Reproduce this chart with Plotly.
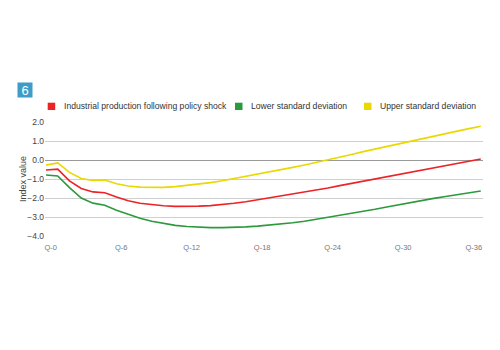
import plotly.graph_objects as go

quarters = list(range(38))
tick_labels = ["Q-0", "Q-6", "Q-12", "Q-18", "Q-24", "Q-30", "Q-36"]
tick_quarters = [0, 6, 12, 18, 24, 30, 36]

industrial = [-0.53, -0.48, -1.10, -1.50, -1.68, -1.72, -1.95, -2.15, -2.28, -2.36,
              -2.41, -2.44, -2.44, -2.43, -2.40, -2.35, -2.28, -2.20, -2.10, -2.00,
              -1.90, -1.79, -1.68, -1.57, -1.47, -1.35, -1.23, -1.12, -1.00, -0.88,
              -0.77, -0.65, -0.53, -0.42, -0.30, -0.18, -0.07, 0.05]
lower = [-0.79, -0.84, -1.45, -2.00, -2.27, -2.38, -2.65, -2.88, -3.07, -3.22,
         -3.35, -3.44, -3.50, -3.54, -3.56, -3.56, -3.55, -3.52, -3.48, -3.43,
         -3.38, -3.30, -3.22, -3.12, -3.02, -2.92, -2.81, -2.70, -2.59, -2.47,
         -2.35, -2.23, -2.12, -2.02, -1.92, -1.82, -1.72, -1.63]
upper = [-0.27, -0.15, -0.65, -0.97, -1.08, -1.05, -1.25, -1.37, -1.43, -1.45,
         -1.44, -1.40, -1.34, -1.27, -1.19, -1.09, -0.98, -0.87, -0.76, -0.64,
         -0.52, -0.39, -0.26, -0.13, 0.00, 0.14, 0.29, 0.44, 0.58, 0.72,
         0.86, 1.00, 1.13, 1.26, 1.39, 1.52, 1.65, 1.78]

series_names = ["Industrial production following policy shock",
                "Lower standard deviation", "Upper standard deviation"]
colors = ["#ec2327", "#2b9a3c", "#e8d900"]

W, H = 500, 350
L, R, T, B = 45, 17, 122, 114
PW, PH = W - L - R, H - T - B

def px_x(px):
    return (px - L) / PW

def px_y(py):
    return (H - B - py) / PH

fig = go.Figure()
for name, vals, col in zip(series_names, [industrial, lower, upper], colors):
    fig.add_trace(go.Scatter(x=quarters, y=vals, mode="lines", name=name,
                             line=dict(color=col, width=1.6), showlegend=False))

fig.update_layout(
    width=W, height=H,
    margin=dict(l=L, r=R, t=T, b=B),
    paper_bgcolor="white", plot_bgcolor="white",
    font=dict(family="Liberation Sans, Arial, sans-serif", color="#444"),
    xaxis=dict(range=[-0.085, 37.19], tickvals=[q + 0.4 for q in tick_quarters],
               ticktext=tick_labels, showgrid=False, zeroline=False,
               showline=False, ticks="", ticklabelstandoff=5,
               tickfont=dict(size=7.5, color="#777")),
    yaxis=dict(range=[-4, 2], dtick=1, tickformat=".1f", showgrid=True,
               gridcolor="#cfcfcf", gridwidth=1, zeroline=True,
               zerolinecolor="#9a9a9a", zerolinewidth=1, showline=False,
               ticks="", tickfont=dict(size=8.5, color="#444")),
)

# y axis title
fig.add_annotation(text="Index value", textangle=-90, x=px_x(23), y=0.5,
                   xref="paper", yref="paper", showarrow=False,
                   font=dict(size=9, color="#444"), xanchor="center", yanchor="middle")

# chart number badge
fig.add_annotation(text="6", x=px_x(24.5), y=px_y(90), xref="paper", yref="paper",
                   showarrow=False, width=14, height=14, bgcolor="#3d9cc8",
                   font=dict(size=13, color="white"), xanchor="center", yanchor="middle",
                   borderpad=0)

# legend
legend_sq = [47.7, 235, 364]
legend_tx = [61.7, 249, 377.7]
for name, col, sx, tx in zip(series_names, colors, legend_sq, legend_tx):
    fig.add_shape(type="rect", xref="paper", yref="paper",
                  x0=px_x(sx), x1=px_x(sx + 7.5), y0=px_y(110), y1=px_y(102.7),
                  fillcolor=col, line=dict(width=0))
    fig.add_annotation(text=name, x=px_x(tx), y=px_y(106.4), xref="paper", yref="paper",
                       showarrow=False, xanchor="left", yanchor="middle",
                       font=dict(size=8.6, color="#333"))

fig.write_html("out.html")
